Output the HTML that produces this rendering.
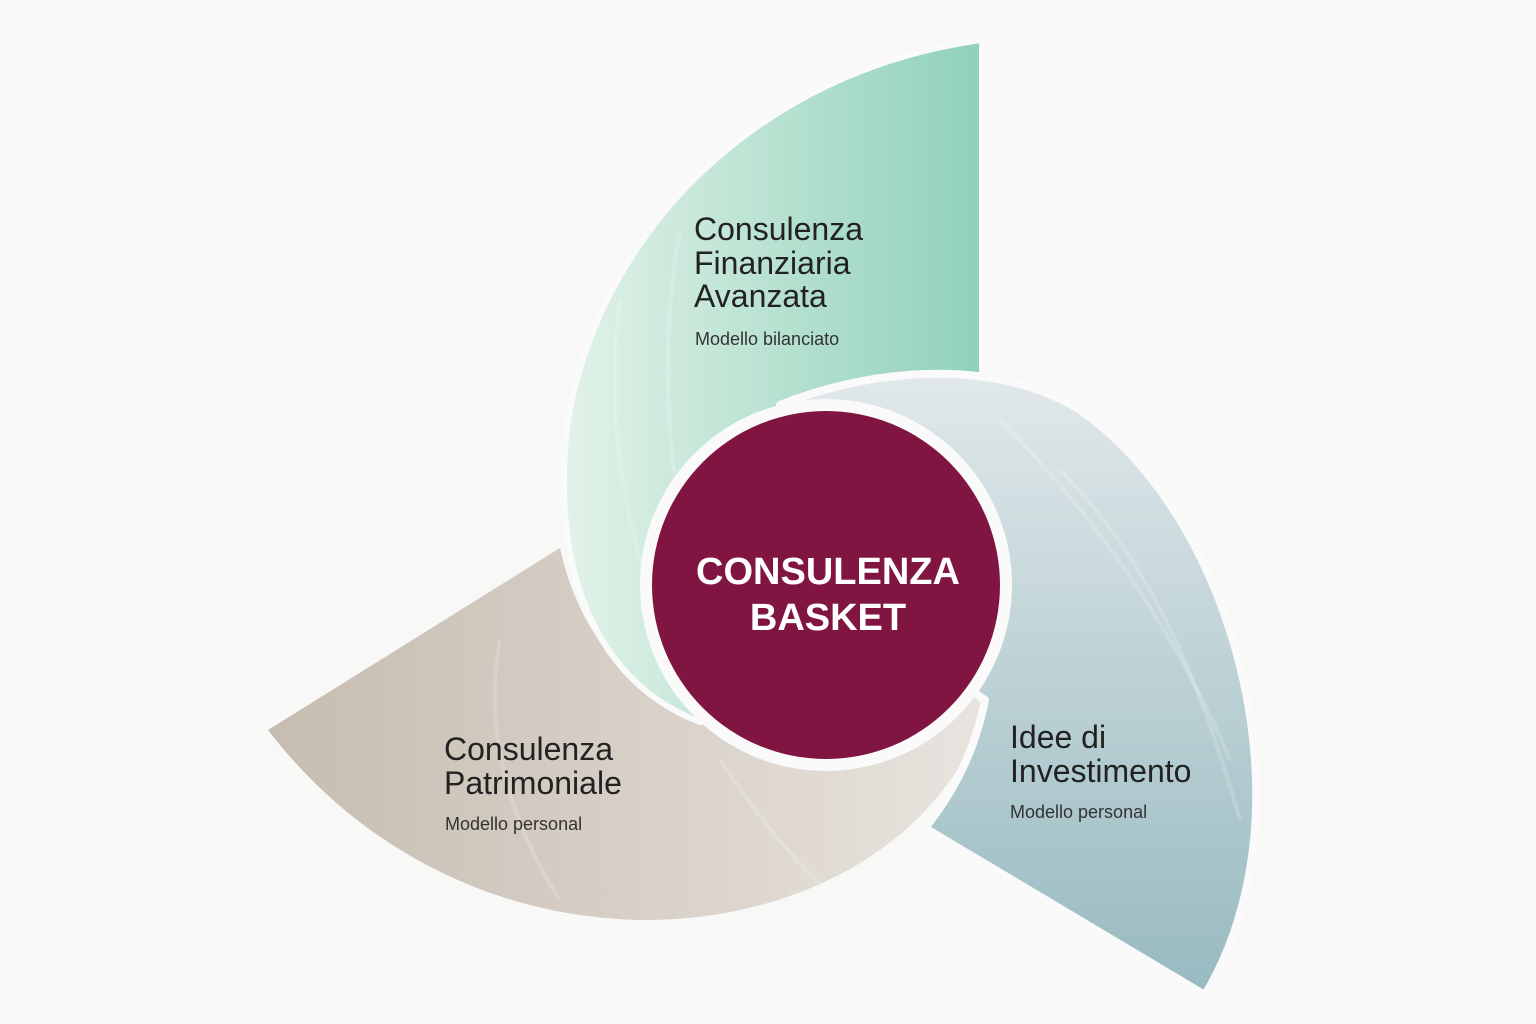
<!DOCTYPE html>
<html><head><meta charset="utf-8"><style>
html,body{margin:0;padding:0;background:#f8f8f7;}
svg{display:block}
text{font-family:"Liberation Sans",sans-serif;}
</style></head><body>
<svg width="1536" height="1024" viewBox="0 0 1536 1024" xmlns="http://www.w3.org/2000/svg">
<defs>
<linearGradient id="g" x1="0" y1="0" x2="1" y2="0"><stop offset="0" stop-color="#e2f2e9"/><stop offset="1" stop-color="#8fd1b9"/></linearGradient>
<linearGradient id="b" x1="0" y1="0" x2="1" y2="0"><stop offset="0" stop-color="#c6bcb0"/><stop offset="1" stop-color="#e9e4df"/></linearGradient>
<linearGradient id="u" x1="0" y1="0" x2="0" y2="1"><stop offset="0" stop-color="#e1e8ea"/><stop offset="1" stop-color="#97bac0"/></linearGradient>
</defs>
<rect width="1536" height="1024" fill="#f8f8f7"/>
<path d="M268,730 L560,548 C580,640 640,705 720,730 L992,680 C965,830 810,922 640,920 C495,917 360,850 268,730 Z" fill="url(#b)"/>
<path d="M982,40 C760,70 600,230 568,420 C550,560 590,680 700,722 L982,600 Z" fill="url(#g)" stroke="#fafafa" stroke-width="6"/>
<path d="M780,405 C880,365 1000,360 1080,410 C1180,480 1245,620 1255,760 C1262,860 1238,940 1205,995 L925,828 C955,790 975,750 985,700 L826,585 Z" fill="url(#u)" stroke="#fafafa" stroke-width="8" stroke-linejoin="round"/>
<g fill="none" stroke="#ffffff" stroke-opacity="0.18" stroke-width="4">
<path d="M620,300 C600,450 640,600 700,700"/><path d="M680,230 C650,400 680,560 720,650"/>
<path d="M1000,420 C1100,520 1180,640 1230,760"/><path d="M1060,470 C1150,560 1200,680 1240,820"/>
<path d="M500,640 C480,740 520,840 560,900"/><path d="M720,760 C760,820 800,870 840,900"/>
</g>
<circle cx="826" cy="585" r="186" fill="#fafafa"/>
<circle cx="826" cy="585" r="174" fill="#7f1540"/>
<text x="828" y="584" text-anchor="middle" font-size="38" font-weight="bold" fill="#fff">CONSULENZA</text>
<text x="828" y="630" text-anchor="middle" font-size="38" font-weight="bold" fill="#fff">BASKET</text>
<g fill="#222" font-size="32">
<text x="694" y="240">Consulenza</text><text x="694" y="274">Finanziaria</text><text x="694" y="307">Avanzata</text>
<text x="444" y="760">Consulenza</text><text x="444" y="794">Patrimoniale</text>
<text x="1010" y="748">Idee di</text><text x="1010" y="782">Investimento</text>
</g>
<g fill="#333" font-size="18">
<text x="695" y="345">Modello bilanciato</text>
<text x="445" y="830">Modello personal</text>
<text x="1010" y="818">Modello personal</text>
</g>
</svg>
</body></html>
